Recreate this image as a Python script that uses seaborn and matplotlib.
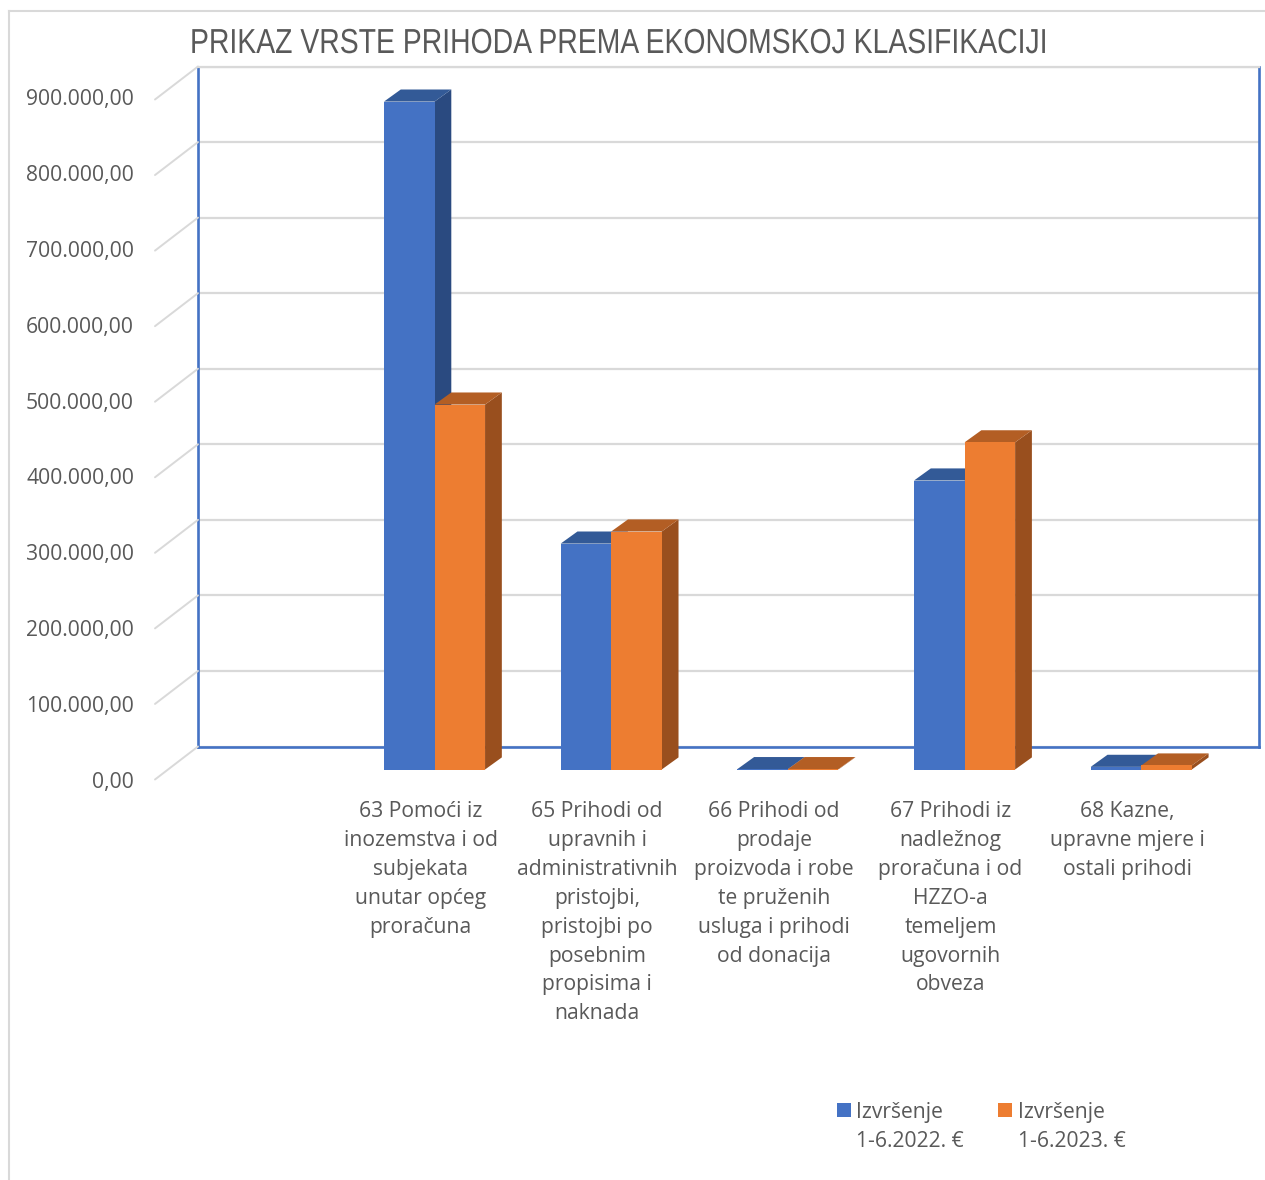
"""
Prikaz vrste prihoda prema ekonomskoj klasifikaciji - stupci s lažnim 3D izgledom
"""

import matplotlib
matplotlib.use("Agg")
import matplotlib.pyplot as plt
import pandas as pd
import seaborn as sns
from matplotlib.patches import Polygon, Rectangle
from matplotlib.legend_handler import HandlerPatch
from matplotlib.patheffects import AbstractPathEffect
from matplotlib.transforms import Affine2D


W, H = 1265, 1180

naslov = "PRIKAZ VRSTE PRIHODA PREMA EKONOMSKOJ KLASIFIKACIJI"

kategorije = [
    "63 Pomoći iz\ninozemstva i od\nsubjekata\nunutar općeg\nproračuna",
    "65 Prihodi od\nupravnih i\nadministrativnih\npristojbi,\npristojbi po\nposebnim\npropisima i\nnaknada",
    "66 Prihodi od\nprodaje\nproizvoda i robe\nte pruženih\nusluga i prihodi\nod donacija",
    "67 Prihodi iz\nnadležnog\nproračuna i od\nHZZO-a\ntemeljem\nugovornih\nobveza",
    "68 Kazne,\nupravne mjere i\nostali prihodi",
]
izvrsenje_2022 = [884000, 299000, 500, 382500, 3500]
izvrsenje_2023 = [483000, 315000, 500, 433000, 5300]
serije = ["Izvršenje\n1-6.2022. €", "Izvršenje\n1-6.2023. €"]

y_vrijednosti = [0, 100000, 200000, 300000, 400000, 500000, 600000, 700000, 800000, 900000]
y_oznake = ["0,00", "100.000,00", "200.000,00", "300.000,00", "400.000,00",
            "500.000,00", "600.000,00", "700.000,00", "800.000,00", "900.000,00"]

CRNA_TEKST = "#595959"
GRID = "#D9D9D9"
PLAVA = "#4472C4"
NARANCA = "#ED7D31"
BOJE_BOK = {PLAVA: "#2A4A80", NARANCA: "#994F1E"}
BOJE_VRH = {PLAVA: "#335A97", NARANCA: "#B35E24"}

# dubina stupca, u jedinicama osi (kategorija / vrijednost)
DUBINA_X = 0.095
DUBINA_Y = 16000


class SuziTekst(AbstractPathEffect):
    # naslov je u originalu vodoravno stisnut
    def __init__(self, sidro, faktor):
        super().__init__()
        self.sidro = sidro
        self.faktor = faktor

    def draw_path(self, renderer, gc, tpath, affine, rgbFace=None):
        t = affine + Affine2D().translate(-self.sidro, 0).scale(self.faktor, 1).translate(self.sidro, 0)
        renderer.draw_path(gc, tpath, t, rgbFace)


def os_px(fig, lijevo, gore, desno, dolje, **kw):
    return fig.add_axes([lijevo / W, 1 - dolje / H, (desno - lijevo) / W, (dolje - gore) / H], **kw)


def legenda_kvadrat(legend, orig_handle, xdescent, ydescent, width, height, fontsize):
    return Rectangle((-xdescent, -ydescent + 13.1), 10, 10)


def nacrtaj_3d(ax, patch, boja, z):
    x0, x1 = patch.get_x(), patch.get_x() + patch.get_width()
    v = patch.get_height()
    bok = [(x1, 0), (x1 + DUBINA_X, DUBINA_Y), (x1 + DUBINA_X, v + DUBINA_Y), (x1, v)]
    vrh = [(x0, v), (x0 + DUBINA_X, v + DUBINA_Y), (x1 + DUBINA_X, v + DUBINA_Y), (x1, v)]
    ax.add_patch(Polygon(bok, closed=True, fc=BOJE_BOK[boja], ec="none", zorder=z, clip_on=False))
    ax.add_patch(Polygon(vrh, closed=True, fc=BOJE_VRH[boja], ec="none", zorder=z, clip_on=False))


def main():
    sns.set_theme(style="white")
    plt.rcParams["font.family"] = ["Open Sans", "DejaVu Sans"]

    fig = plt.figure(figsize=(W / 100, H / 100), dpi=100, facecolor="white")

    # okvir grafikona
    okvir = os_px(fig, 9, 11, W + 5, H + 5, zorder=0)
    okvir.set_xticks([])
    okvir.set_yticks([])
    for s in ["right", "bottom"]:
        okvir.spines[s].set_visible(False)
    for s in ["left", "top"]:
        okvir.spines[s].set_color(GRID)
        okvir.spines[s].set_linewidth(1.5)

    # stražnji zid s mrežom
    zid = os_px(fig, 198, 66.5, 1259, 746.5, zorder=1)
    zid.set_xlim(0, 1)
    zid.set_ylim(0, 900000)
    zid.set_xticks([])
    zid.set_yticks(y_vrijednosti, y_oznake)
    zid.grid(axis="y", color=GRID, lw=1.6)
    zid.tick_params(axis="y", length=0, pad=46, labelsize=15.2, labelcolor=CRNA_TEKST)
    for v, lab in zip(y_vrijednosti, zid.get_yticklabels()):
        lab.set_transform(lab.get_transform() + Affine2D().translate(0, -33.5 + 3 * v / 900000))
    for s in ["left", "bottom", "right"]:
        zid.spines[s].set_color(PLAVA)
        zid.spines[s].set_linewidth(1.9)
    zid.spines["top"].set_color(GRID)
    zid.spines["top"].set_linewidth(1.6)
    for v in y_vrijednosti:
        zid.annotate("", xy=(0, v), xycoords=zid.get_yaxis_transform(), xytext=(-43, -33),
                     textcoords="offset pixels", annotation_clip=False,
                     arrowprops=dict(arrowstyle="-", color=GRID, lw=1.4, shrinkA=0, shrinkB=0))

    # prednja ravnina sa stupcima
    ax = os_px(fig, 155, 89.5, 1216, 769.5, zorder=2)
    ax.patch.set_alpha(0)
    df = pd.DataFrame({
        "kategorija": kategorije * 2,
        "serija": [serije[0]] * 5 + [serije[1]] * 5,
        "iznos": izvrsenje_2022 + izvrsenje_2023,
    })
    sns.barplot(data=df, x="kategorija", y="iznos", hue="serija", hue_order=serije,
                palette=[PLAVA, NARANCA], width=0.572, saturation=1, gap=0, ax=ax)
    ax.set_xlim(-1.582, 4.423)
    ax.set_ylim(0, 900000)
    ax.set_xlabel("")
    ax.set_ylabel("")
    ax.set_yticks([])
    for s in ax.spines.values():
        s.set_visible(False)
    ax.tick_params(axis="x", length=0, pad=22.5, labelsize=15.2, labelcolor=CRNA_TEKST)
    for lab in ax.get_xticklabels():
        lab.set_linespacing(1.497)
        lab.set_transform(lab.get_transform() + Affine2D().translate(-14, 0))

    # bokovi i vrhovi, izvedeni iz stupaca koje je nacrtao seaborn
    stupci = [p for p in ax.patches if isinstance(p, Rectangle)]
    for i, p in enumerate(stupci):
        boja = PLAVA if i < 5 else NARANCA
        z = 2 if boja == PLAVA else 4
        p.set_zorder(z + 1)
        p.set_edgecolor("none")
        nacrtaj_3d(ax, p, boja, z)

    # legenda
    rucke, oznake = ax.get_legend_handles_labels()
    leg = ax.legend(rucke, oznake, loc="upper left", bbox_to_anchor=(837 / W, 1 - 1102 / H),
                    bbox_transform=fig.transFigure, ncols=2, frameon=False, fontsize=15.2,
                    labelcolor=CRNA_TEKST, handlelength=0.65, handleheight=0.7,
                    handletextpad=0.27, columnspacing=1.62, borderpad=0, borderaxespad=0,
                    handler_map={Rectangle: HandlerPatch(patch_func=legenda_kvadrat)})
    for t in leg.get_texts():
        t.set_linespacing(1.497)

    # naslov
    fig.text(190 / W, 1 - 53 / H, naslov, color=CRNA_TEKST, fontsize=25,
             family=["Liberation Sans"], ha="left", va="baseline",
             path_effects=[SuziTekst(190, 0.817)])

    fig.savefig("out.png", dpi=100, facecolor="white")
    plt.close()


if __name__ == "__main__":
    main()
